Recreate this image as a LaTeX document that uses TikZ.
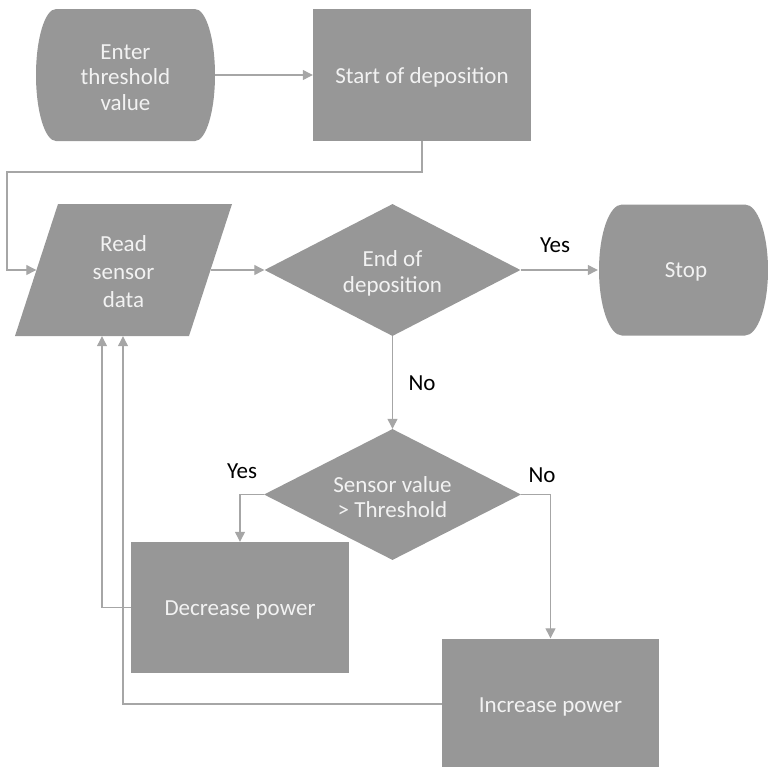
\documentclass[tikz,border=0pt]{standalone}
\usepackage{fontspec}
\setmainfont{Carlito}
\usetikzlibrary{shapes.geometric,arrows.meta,calc}
\definecolor{shapefillc}{RGB}{151,151,151}
\definecolor{linec}{RGB}{166,166,166}
\definecolor{nodetextc}{RGB}{242,242,242}
\tikzset{
  txt/.style={align=center, text=nodetextc, inner sep=0pt,
    font=\fontsize{23pt}{25pt}\selectfont},
  procbox/.style={rectangle, fill=shapefillc, txt, minimum width=#1, minimum height=131pt},
  decision/.style={diamond, aspect=2, fill=shapefillc, txt, minimum width=256pt, minimum height=132pt},
  conn/.style={draw=linec, line width=1.2pt, -{Triangle[length=10pt,width=10pt]}},
  lbl/.style={text=black, inner sep=0pt, font=\fontsize{23pt}{25pt}\selectfont}
}
\begin{document}
\begin{tikzpicture}[x=1pt,y=1pt]
\useasboundingbox (0,0) rectangle (768,-766);
% terminator shapes and parallelogram (drawn directly)
\fill[shapefillc] (56,-9) -- (195,-9)
  arc[start angle=90,end angle=-90,x radius=20pt,y radius=66pt]
  -- (56,-141)
  arc[start angle=270,end angle=90,x radius=20pt,y radius=66pt] -- cycle;
\fill[shapefillc] (622,-204.5) -- (745,-204.5)
  arc[start angle=90,end angle=-90,x radius=23pt,y radius=65.5pt]
  -- (622,-335.5)
  arc[start angle=270,end angle=90,x radius=23pt,y radius=65.5pt] -- cycle;
\fill[shapefillc] (58,-204) -- (232,-204) -- (189,-336) -- (15,-336) -- cycle;
% nodes
\node[txt, minimum width=179pt, minimum height=132pt] (enter) at (125.5,-75) {};
\node[txt, font=\fontsize{23pt}{25.5pt}\selectfont] (entertxt) at (125.5,-77.5) {Enter\\threshold\\value};
\node[procbox=218pt, minimum height=132pt] (start) at (422,-75) {};
\node[txt] (starttxt) at (422,-77) {Start of deposition};
\node[txt, minimum width=174pt, minimum height=132pt] (rsd) at (123.5,-270) {};
\node[txt, font=\fontsize{23pt}{28pt}\selectfont] (rsdtxt) at (123.5,-271.5) {Read\\sensor\\data};
\node[decision] (d1) at (392.5,-270) {};
\node[txt, font=\fontsize{23pt}{26.5pt}\selectfont] (d1txt) at (392.5,-273.5) {End of\\deposition};
\node[txt, minimum width=170pt, minimum height=131pt] (stop) at (683,-270) {};
\node[txt] (stoptxt) at (686,-271.5) {Stop};
\node[decision, minimum width=257pt, minimum height=131pt] (d2) at (392.5,-494.5) {};
\node[txt] (d2txt) at (392.5,-497.5) {Sensor value\\> Threshold};
\node[procbox=218pt] (dec) at (240,-607.5) {};
\node[txt] (dectxt) at (240,-610) {Decrease power};
\node[procbox=217pt] (inc) at (550.5,-704) {};
\node[txt] (inctxt) at (550.5,-706.5) {Increase power};
% connectors
\draw[conn] (enter.east) -- (start.west);
\coordinate (c1) at (7,-172);
\draw[conn] (start.south) |- (c1) |- (rsd.west);
\draw[conn] (rsd.east) -- (d1.west);
\draw[conn] (d1.east) -- (stop.west);
\draw[conn] (d1.south) -- (d2.north);
\draw[conn] (d2.west) -| (dec.north);
\draw[conn] (d2.east) -| (inc.north);
\draw[conn] (dec.west) -| ([xshift=-21.5pt]rsd.south);
\draw[conn] (inc.west) -| ([xshift=-0.5pt]rsd.south);
% labels
\node[lbl] (yes1) at (555,-245) {Yes};
\node[lbl] (no1) at (422,-383) {No};
\node[lbl] (yes2) at (242,-471) {Yes};
\node[lbl] (no2) at (542,-475) {No};
\end{tikzpicture}
\end{document}
